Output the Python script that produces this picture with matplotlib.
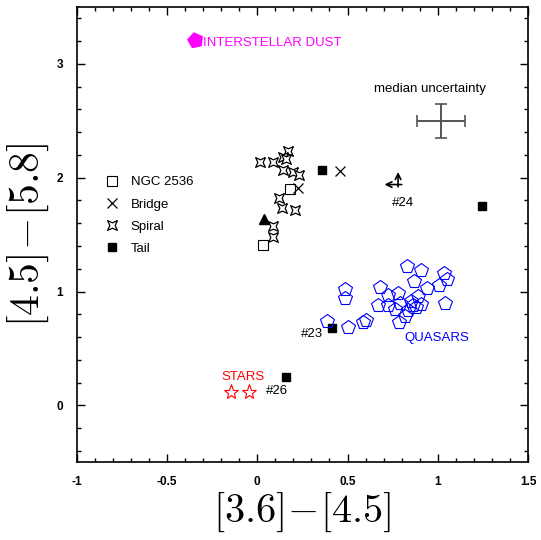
import numpy as np
import matplotlib
matplotlib.use("Agg")
import matplotlib.pyplot as plt
from matplotlib.ticker import MultipleLocator

plt.rcParams["font.family"] = ["Liberation Sans", "DejaVu Sans"]
plt.rcParams["mathtext.fontset"] = "cm"

# --- data ------------------------------------------------------------------
ngc_x = [0.181, 0.033]
ngc_y = [1.900, 1.405]

bridge_x = [0.227, 0.458]
bridge_y = [1.912, 2.060]

spiral_x = [0.171, 0.140, 0.159, 0.014, 0.088, 0.144, 0.196, 0.232,
            0.121, 0.135, 0.208, 0.085, 0.085]
spiral_y = [2.232, 2.183, 2.162, 2.139, 2.139, 2.066, 2.052, 2.028,
            1.818, 1.731, 1.716, 1.580, 1.475]

tail_x = [0.356, 1.243, 0.412, 0.159]
tail_y = [2.070, 1.754, 0.680, 0.245]

tri_x = [0.037]
tri_y = [1.635]

quasar_x = [0.828, 0.907, 1.033, 1.049, 0.868, 1.008, 0.942, 0.680, 0.484,
            0.484, 0.726, 0.781, 0.889, 0.851, 0.864, 0.907, 0.790, 0.667,
            0.726, 1.040, 0.836, 0.818, 0.785, 0.602, 0.587, 0.504, 0.387,
            0.763, 0.879]
quasar_y = [1.226, 1.186, 1.163, 1.110, 1.090, 1.060, 1.031, 1.038, 1.025,
            0.944, 0.970, 0.988, 0.959, 0.915, 0.886, 0.894, 0.900, 0.880,
            0.886, 0.900, 0.842, 0.789, 0.732, 0.749, 0.732, 0.691, 0.740,
            0.848, 0.867]

stars_x = [-0.146, -0.047]
stars_y = [0.120, 0.114]

dust_x = [-0.345]
dust_y = [3.21]

# source #24: limits (left arrow in x, up arrow in y)
lim24_x, lim24_y = 0.78, 1.94
lim24_dx, lim24_dy = 0.075, 0.11

# median uncertainty
err_x, err_y = 1.018, 2.50
err_dx, err_dy = 0.133, 0.15

# --- plot -------------------------------------------------------------------
fig = plt.figure(figsize=(5.41, 5.40), dpi=100)
ax = fig.add_axes([0.142, 0.144, 0.834, 0.843])

spiral_marker = [(1, 1), (0.55, 0), (1, -1), (0, -0.55),
                 (-1, -1), (-0.55, 0), (-1, 1), (0, 0.55), (1, 1)]

ax.plot(ngc_x, ngc_y, ls="none", marker="s", ms=7, mfc="white",
        mec="black", mew=0.8, label="NGC 2536")
ax.plot(bridge_x, bridge_y, ls="none", marker="x", ms=7, color="black",
        mew=0.9, label="Bridge")
ax.plot(spiral_x, spiral_y, ls="none", marker=spiral_marker, ms=7,
        mfc="white", mec="black", mew=0.9, label="Spiral")
ax.plot(tail_x, tail_y, ls="none", marker="s", ms=6, color="black",
        label="Tail")
ax.plot(tri_x, tri_y, ls="none", marker="^", ms=7, color="black")

ax.plot(quasar_x, quasar_y, ls="none", marker="p", ms=10, mfc="none",
        mec="blue", mew=0.8)
ax.plot(stars_x, stars_y, ls="none", marker="*", ms=11, mfc="none",
        mec="red", mew=0.8)
ax.plot(dust_x, dust_y, ls="none", marker=(5, 0, 12), ms=11,
        color="magenta")

ax.errorbar([err_x], [err_y], xerr=[err_dx], yerr=[err_dy], fmt="none",
            ecolor="#555555", elinewidth=1.4, capsize=4, capthick=1.2)

ax.annotate("", xy=(lim24_x - lim24_dx, lim24_y), xytext=(lim24_x + 0.02, lim24_y),
            arrowprops=dict(arrowstyle="->", lw=1.2, color="black",
                            shrinkA=0, shrinkB=0, mutation_scale=10))
ax.annotate("", xy=(lim24_x, lim24_y + lim24_dy), xytext=(lim24_x, lim24_y - 0.02),
            arrowprops=dict(arrowstyle="->", lw=1.2, color="black",
                            shrinkA=0, shrinkB=0, mutation_scale=10))

ax.text(-0.30, 3.18, "INTERSTELLAR DUST", color="magenta", fontsize=9.5,
        va="center", ha="left")
ax.text(0.957, 2.78, "median uncertainty", fontsize=9.5, ha="center",
        va="center")
ax.text(0.807, 1.78, "#24", fontsize=9.5, ha="center", va="center")
ax.text(0.305, 0.63, "#23", fontsize=9.5, ha="center", va="center")
ax.text(0.994, 0.594, "QUASARS", color="blue", fontsize=9.5, ha="center",
        va="center")
ax.text(-0.079, 0.245, "STARS", color="red", fontsize=9.5, ha="center",
        va="center")
ax.text(0.109, 0.13, "#26", fontsize=9.5, ha="center", va="center")

ax.set_xlim(-1, 1.5)
ax.set_ylim(-0.5, 3.5)
ax.xaxis.set_major_locator(MultipleLocator(0.5))
ax.xaxis.set_minor_locator(MultipleLocator(0.1))
ax.yaxis.set_major_locator(MultipleLocator(1))
ax.yaxis.set_minor_locator(MultipleLocator(0.2))
ax.set_xticks([-1, -0.5, 0, 0.5, 1, 1.5])
ax.set_xticklabels(["-1", "-0.5", "0", "0.5", "1", "1.5"])
ax.set_yticks([0, 1, 2, 3])
ax.set_yticklabels(["0", "1", "2", "3"])
ax.tick_params(which="both", direction="in", top=True, right=True,
               width=1.0)
ax.tick_params(which="major", length=6, labelsize=8.5, pad=10)
ax.tick_params(which="minor", length=3)
for lab in ax.get_xticklabels() + ax.get_yticklabels():
    lab.set_fontweight("bold")
for sp in ax.spines.values():
    sp.set_linewidth(1.2)

ax.set_xlabel(r"$[3.6]\!-\![4.5]$", fontsize=29, labelpad=2)
ax.set_ylabel(r"$[4.5]\!-\![5.8]$", fontsize=30, labelpad=4)

ax.legend(loc="upper left", bbox_to_anchor=(0.052, 0.64), frameon=False,
          fontsize=9.5, handlelength=1.0, handletextpad=0.9,
          labelspacing=0.75, borderaxespad=0)

fig.savefig("out.png", dpi=100)
